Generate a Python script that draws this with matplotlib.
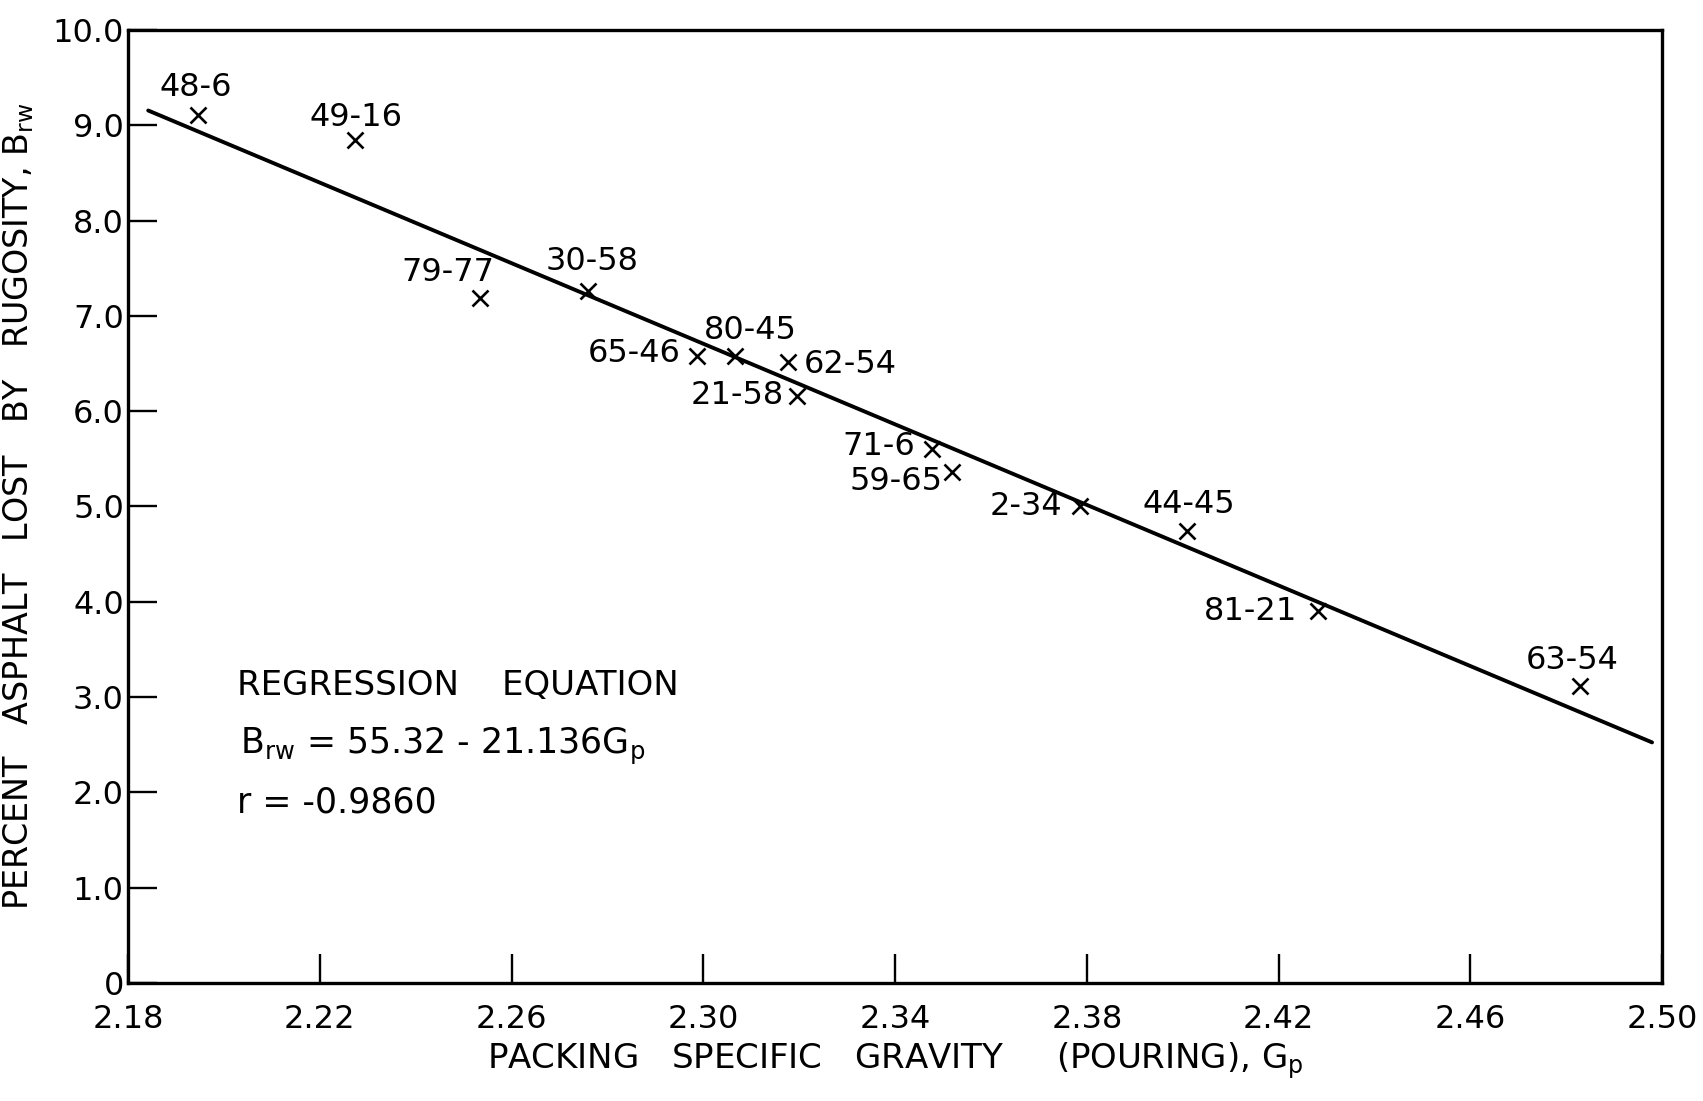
import numpy as np
import matplotlib.pyplot as plt

# packing specific gravity (pouring) and asphalt lost by rugosity for each aggregate
samples = ["48-6", "49-16", "79-77", "30-58", "65-46", "80-45", "62-54",
           "21-58", "71-6", "59-65", "2-34", "44-45", "81-21", "63-54"]
gp = [2.1946, 2.2273, 2.2534, 2.2760, 2.2987, 2.3066, 2.3177,
      2.3196, 2.3477, 2.3519, 2.3786, 2.4009, 2.4282, 2.4829]
brw = [9.11, 8.85, 7.19, 7.26, 6.58, 6.58, 6.52,
       6.16, 5.60, 5.36, 5.01, 4.74, 3.90, 3.12]

# label placement: offset in points and horizontal alignment
offsets = [(-2, 19.5), (1, 16), (-23, 18), (3, 21), (-12, 1.5), (11, 18), (11, -2),
           (-10, 0), (-12, 2), (-7, -7), (-13, -1), (1, 19), (-15, 0), (-6, 18)]
aligns = ["center", "center", "center", "center", "right", "center", "left",
          "right", "right", "right", "right", "center", "right", "center"]

# regression line B_rw = 55.32 - 21.136 Gp
intercept = 55.32
slope = -21.136
g_fit = np.array([2.1842, 2.4979])
b_fit = intercept + slope * g_fit

xticks = [2.18, 2.22, 2.26, 2.30, 2.34, 2.38, 2.42, 2.46, 2.50]
yticks = [0, 1, 2, 3, 4, 5, 6, 7, 8, 9, 10]
ylabels = ["0", "1.0", "2.0", "3.0", "4.0", "5.0", "6.0", "7.0", "8.0", "9.0", "10.0"]

plt.rcParams['font.family'] = 'DejaVu Sans'

fig = plt.figure(figsize=(17.03, 11.01), dpi=100)
ax = fig.add_axes([0.0752, 0.1072, 0.9008, 0.8656])

ax.plot(g_fit, b_fit, color="black", lw=2.8, solid_capstyle="round")
ax.plot(gp, brw, "x", color="black", ms=12, mew=1.9)

for name, x, y, off, ha in zip(samples, gp, brw, offsets, aligns):
    ax.annotate(name, (x, y), xytext=off, textcoords="offset points",
                ha=ha, va="center", fontsize=23)

ax.set_xlim(2.18, 2.50)
ax.set_ylim(0, 10)
ax.set_xticks(xticks)
ax.set_xticklabels([f"{v:.2f}" for v in xticks])
ax.set_yticks(yticks)
ax.set_yticklabels(ylabels)
ax.tick_params(axis="both", direction="in", length=21, width=1.7, labelsize=23)
ax.tick_params(axis="y", pad=3)
ax.tick_params(axis="x", pad=15)
for s in ax.spines.values():
    s.set_linewidth(2.4)

ax.set_xlabel(r"PACKING   SPECIFIC   GRAVITY     (POURING), $\mathregular{G_p}$",
              fontsize=24.5, labelpad=4)
ax.set_ylabel(r"PERCENT   ASPHALT   LOST   BY   RUGOSITY, $\mathregular{B_{rw}}$",
              fontsize=24, labelpad=12)

ax.text(0.071, 0.312, "REGRESSION    EQUATION", transform=ax.transAxes,
        fontsize=24.5, va="center")
ax.text(0.073, 0.248, r"$\mathregular{B_{rw}}$ = 55.32 - 21.136$\mathregular{G_p}$",
        transform=ax.transAxes, fontsize=25, va="center")
ax.text(0.071, 0.189, "r = -0.9860", transform=ax.transAxes,
        fontsize=25, va="center")

fig.savefig("out.png", dpi=100)
